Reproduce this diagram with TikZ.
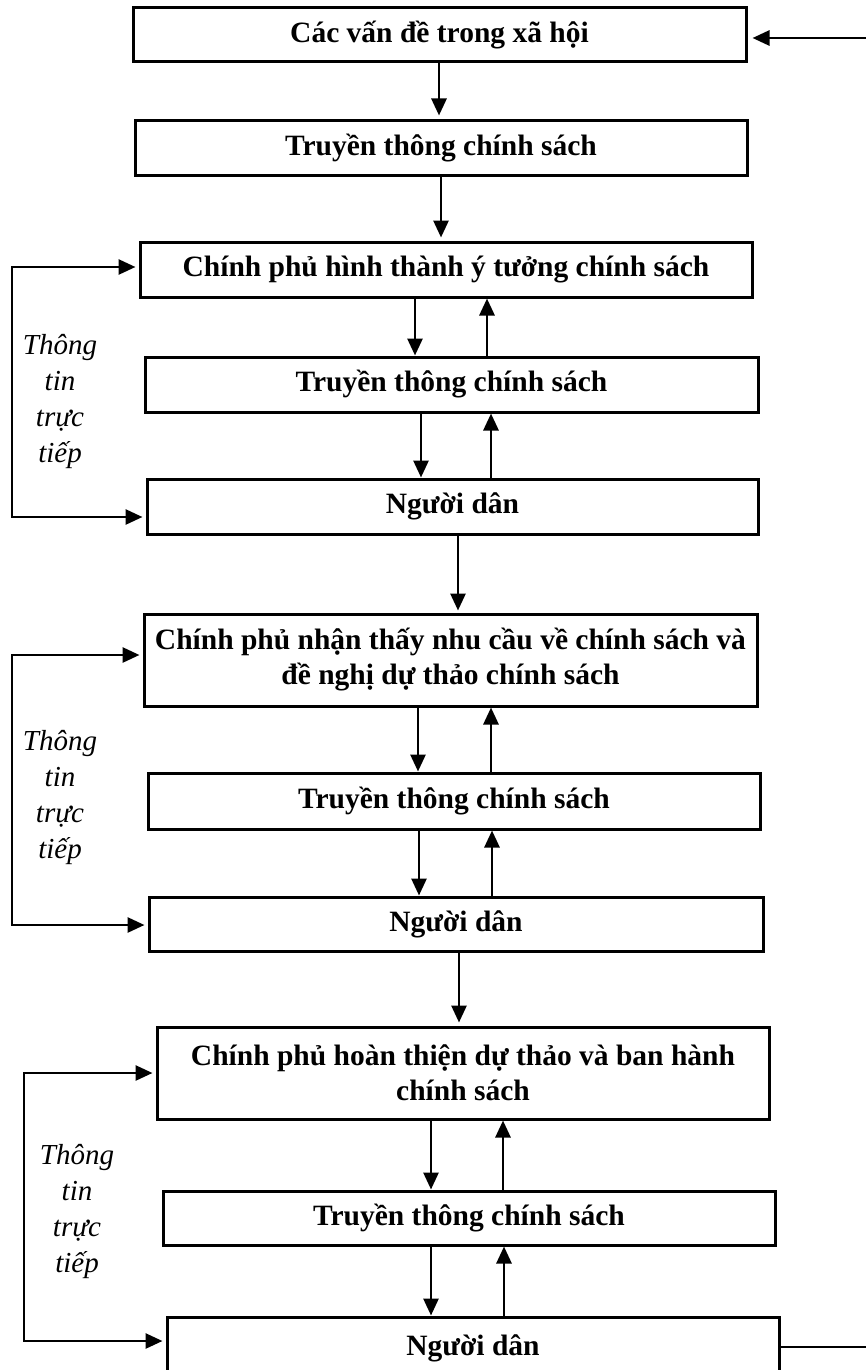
\documentclass[tikz,border=0pt]{standalone}
\usepackage{fontspec}
\setmainfont{Liberation Serif}
\usetikzlibrary{arrows.meta}
\begin{document}
\begin{tikzpicture}[x=1pt,y=-1pt,
  box/.style={draw, line width=3pt, rectangle, inner sep=0pt, align=center,
    font=\fontsize{29.5}{35}\selectfont\bfseries},
  arr/.style={line width=2.8pt, -{Triangle[length=17pt,width=15pt]}},
  darr/.style={line width=2.8pt, {Triangle[length=17pt,width=15pt]}-{Triangle[length=17pt,width=15pt]},
    shorten <=3pt, shorten >=3pt},
  lbl/.style={align=center, inner sep=0pt, font=\fontsize{29}{36}\selectfont\itshape}]
\useasboundingbox (0,0) rectangle (866,1370);
\clip (0,0) rectangle (866,1370);
\fill[white] (0,0) rectangle (866,1370);

% boxes
\node[box, minimum width=613pt, minimum height=54pt] (b1) at (439.5,35) {Các vấn đề trong xã hội};
\node[box, minimum width=612pt, minimum height=54pt] (b2) at (441,148) {Truyền thông chính sách};
\node[box, minimum width=612pt, minimum height=55pt] (b3) at (446,269.5) {Chính phủ hình thành ý tưởng chính sách};
\node[box, minimum width=613pt, minimum height=55pt] (b4) at (451.5,384.5) {Truyền thông chính sách};
\node[box, minimum width=611pt, minimum height=55pt] (b5) at (452.5,506.5) {Người dân};
\node[box, minimum width=613pt, minimum height=92pt] (b6) at (450.5,660) {Chính phủ nhận thấy nhu cầu về chính sách và\\đề nghị dự thảo chính sách};
\node[box, minimum width=612pt, minimum height=56pt] (b7) at (454,801) {Truyền thông chính sách};
\node[box, minimum width=614pt, minimum height=54pt] (b8) at (456,924) {Người dân};
\node[box, minimum width=612pt, minimum height=92pt] (b9) at (463,1073) {Chính phủ hoàn thiện dự thảo và ban hành\\chính sách};
\node[box, minimum width=612pt, minimum height=54pt] (b10) at (469,1218) {Truyền thông chính sách};
\node[box, minimum width=612pt, minimum height=62pt] (b11) at (473,1348) {Người dân};

% labels
\node[lbl] (t1) at (60,402) {Thông\\tin\\trực\\tiếp};
\node[lbl] (t2) at (60,797) {Thông\\tin\\trực\\tiếp};
\node[lbl] (t3) at (77,1211) {Thông\\tin\\trực\\tiếp};

% vertical arrows
\draw[arr, shorten >=4pt] (439,0 |- b1.south) -- (439,0 |- b2.north);
\draw[arr, shorten >=3pt] (441,0 |- b2.south) -- (441,0 |- b3.north);
\draw[arr] (415,0 |- b3.south) -- (415,0 |- b4.north);
\draw[arr] (487,0 |- b4.north) -- (487,0 |- b3.south);
\draw[arr] (421,0 |- b4.south) -- (421,0 |- b5.north);
\draw[arr] (491,0 |- b5.north) -- (491,0 |- b4.south);
\draw[arr, shorten >=2pt] (458,0 |- b5.south) -- (458,0 |- b6.north);
\draw[arr] (418,0 |- b6.south) -- (418,0 |- b7.north);
\draw[arr] (491,0 |- b7.north) -- (491,0 |- b6.south);
\draw[arr] (419,0 |- b7.south) -- (419,0 |- b8.north);
\draw[arr] (492,0 |- b8.north) -- (492,0 |- b7.south);
\draw[arr, shorten >=3pt] (459,0 |- b8.south) -- (459,0 |- b9.north);
\draw[arr] (431,0 |- b9.south) -- (431,0 |- b10.north);
\draw[arr] (503,0 |- b10.north) -- (503,0 |- b9.south);
\draw[arr] (431,0 |- b10.south) -- (431,0 |- b11.north);
\draw[arr] (504,0 |- b11.north) -- (504,0 |- b10.south);

% feedback loops
\draw[darr] (b5.west |- 0,517) -- (12,517) -- (12,267) -- (b3.west |- 0,267);
\draw[darr] (b8.west |- 0,925) -- (12,925) -- (12,655) -- (b6.west |- 0,655);
\draw[darr] (b11.west |- 0,1341) -- (24,1341) -- (24,1073) -- (b9.west |- 0,1073);

% outer return connectors
\coordinate (tr) at (866,38);
\coordinate (br) at (866,1347);
\draw[arr, shorten >=5pt] (tr) -- (b1.east |- tr);
\draw[line width=2.8pt] (b11.east |- br) -- (br);
\end{tikzpicture}
\end{document}
